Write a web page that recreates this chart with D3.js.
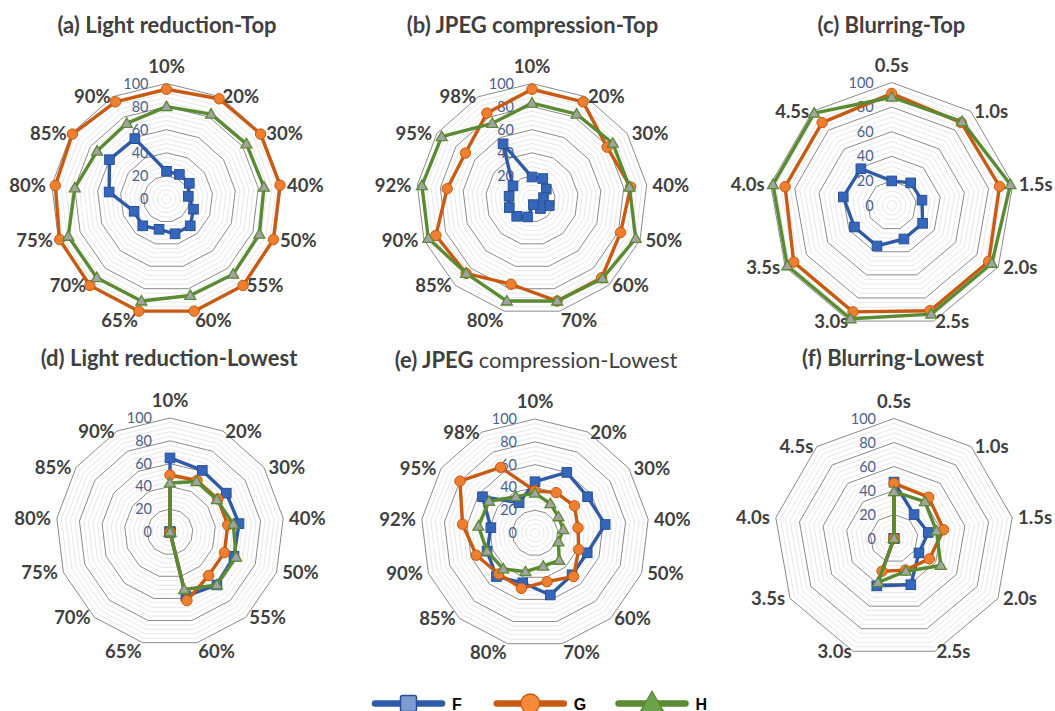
<!DOCTYPE html>
<html>
<head>
<meta charset="utf-8">
<script src="https://cdn.jsdelivr.net/npm/d3@7"></script>
<style>
  html, body { margin: 0; padding: 0; background: #ffffff; }
  svg { display: block; }
</style>
</head>
<body>
<svg id="chart" width="1055" height="711"></svg>
<script>
// ---- categories ----
const lightLevels = ["10%","20%","30%","40%","50%","55%","60%","65%","70%","75%","80%","85%","90%"];
const jpegLevels  = ["10%","20%","30%","40%","50%","60%","70%","80%","85%","90%","92%","95%","98%"];
const blurLevels  = ["0.5s","1.0s","1.5s","2.0s","2.5s","3.0s","3.5s","4.0s","4.5s"];

// ---- series ----
const seriesNames = ["F", "G", "H"];

const lightTopF = [24, 24, 24, 19, 25, 31, 31, 27, 31, 30, 50, 60, 59];
const lightTopG = [95, 98, 99, 99, 99, 100, 100, 100, 100, 99, 97, 99, 95];
const lightTopH = [80, 83, 84, 85, 86, 87, 86, 91, 91, 91, 80, 73, 74];

const jpegTopF = [19, 20, 15, 10, 16, 11, 5, 16, 20, 21, 20, 20, 54];
const jpegTopG = [95, 95, 79, 86, 82, 91, 91, 76, 86, 89, 74, 70, 84];
const jpegTopH = [83, 83, 85, 85, 96, 92, 91, 91, 86, 96, 96, 95, 74];

const blurTopF = [20, 24, 25, 29, 29, 35, 35, 40, 39];
const blurTopG = [91, 88, 89, 91, 91, 92, 92, 88, 88];
const blurTopH = [88, 89, 98, 94, 94, 98, 98, 98, 98];

const lightLowF = [65, 61, 60, 61, 60, 62, 58, 0, 0, 0, 0, 0, 0];
const lightLowG = [50, 51, 51, 51, 51, 51, 62, 0, 0, 0, 0, 0, 0];
const lightLowH = [43, 50, 50, 56, 62, 62, 52, 0, 0, 0, 0, 0, 0];

const jpegLowF = [45, 60, 56, 62, 49, 49, 56, 45, 51, 45, 39, 56, 30];
const jpegLowG = [37, 40, 42, 38, 41, 51, 44, 50, 48, 55, 64, 80, 65];
const jpegLowH = [35, 29, 25, 25, 22, 32, 30, 35, 42, 45, 50, 49, 36];

const blurLowF = [47, 26, 29, 24, 41, 42, 0, 0, 0];
const blurLowG = [46, 45, 42, 34, 28, 29, 0, 0, 0];
const blurLowH = [39, 40, 36, 45, 29, 39, 0, 0, 0];

// ---- radial axis ticks ----
const majorTicks = [0, 20, 40, 60, 80, 100];
const minorStep = 4;

// ---- panels: text, data and where each sits ----
const panels = [
  { title: [["(a) Light reduction-Top", 700]], cats: lightLevels, values: [lightTopF, lightTopG, lightTopH],
    cx: 166.5, cy: 199, r: 115.5, tx: 167, ty: 33 },
  { title: [["(b) JPEG compression-Top", 700]], cats: jpegLevels, values: [jpegTopF, jpegTopG, jpegTopH],
    cx: 532, cy: 199, r: 115.5, tx: 532.5, ty: 33 },
  { title: [["(c) Blurring-Top", 700]], cats: blurLevels, values: [blurTopF, blurTopG, blurTopH],
    cx: 891.7, cy: 205.5, r: 123, tx: 891.5, ty: 33 },
  { title: [["(d) Light reduction-Lowest", 700]], cats: lightLevels, values: [lightLowF, lightLowG, lightLowH],
    cx: 170, cy: 532, r: 114, tx: 169, ty: 366 },
  { title: [["(e) JPEG ", 700], ["compression-Lowest", 400]], cats: jpegLevels, values: [jpegLowF, jpegLowG, jpegLowH],
    cx: 535, cy: 533, r: 114, tx: 536, ty: 368 },
  { title: [["(f) Blurring-Lowest", 700]], cats: blurLevels, values: [blurLowF, blurLowG, blurLowH],
    cx: 894, cy: 538.5, r: 120, tx: 893, ty: 366 }
];

// ---- styles per series ----
const styles = {
  F: { line: "#2F5AA8", fill: "#3467BC", stroke: "#2A4F94", shape: "square" },
  G: { line: "#C95A12", fill: "#F07E2F", stroke: "#C55A11", shape: "circle" },
  H: { line: "#5A8A32", fill: "#A3A3A3", stroke: "#5A8A32", shape: "triangle" }
};

const textColor = "#404040";
const tickColor = "#4C6189";
const labelFont = "Lato, 'Open Sans', 'DejaVu Sans', sans-serif";

const svg = d3.select("#chart");

function drawPanel(p) {
  const n = p.cats.length;
  const g = svg.append("g").attr("transform", `translate(${p.cx},${p.cy})`);
  const rScale = d3.scaleLinear().domain([0, 100]).range([0, p.r]);
  const angle = d3.scaleLinear().domain([0, n]).range([0, 2 * Math.PI]);
  const idx = d3.range(n);

  const ring = v => d3.lineRadial()
      .angle(i => angle(i))
      .radius(() => rScale(v))
      .curve(d3.curveLinearClosed)(idx);

  // minor rings
  const minor = d3.range(minorStep, 100, minorStep).filter(v => v % 20 !== 0);
  g.selectAll("path.minor").data(minor).join("path")
    .attr("class", "minor")
    .attr("d", v => ring(v))
    .attr("fill", "none")
    .attr("stroke", "#E4E4E4")
    .attr("stroke-width", 0.9);

  // major rings
  g.selectAll("path.major").data(majorTicks.filter(v => v > 0)).join("path")
    .attr("class", "major")
    .attr("d", v => ring(v))
    .attr("fill", "none")
    .attr("stroke", "#8A8A8A")
    .attr("stroke-width", 1);

  // radial tick labels
  g.selectAll("text.tick").data(majorTicks).join("text")
    .attr("class", "tick")
    .attr("x", -18)
    .attr("y", v => -rScale(v) + 5)
    .attr("text-anchor", "end")
    .attr("font-family", labelFont)
    .attr("font-size", 14.5)
    .attr("fill", tickColor)
    .text(v => v);

  // category labels
  const capH = 13.5;
  idx.forEach(i => {
    const a = angle(i), s = Math.sin(a), c = Math.cos(a);
    const vx = rScale(100) * s, vy = -rScale(100) * c;
    let x = vx, y, anchor;
    const gap = Math.max(1, 7 * Math.abs(s) - 1);
    if (Math.abs(s) < 0.05) anchor = "middle";
    else if (s > 0) { anchor = "start"; x = vx + gap; }
    else { anchor = "end"; x = vx - gap; }
    if (c > 0.95) y = vy - 11;
    else if (c < -0.95) y = vy + 2 + capH;
    else y = vy + capH / 2;
    g.append("text")
      .attr("x", x).attr("y", y)
      .attr("text-anchor", anchor)
      .attr("font-family", labelFont)
      .attr("font-weight", 700)
      .attr("font-size", 18.5)
      .attr("fill", textColor)
      .text(p.cats[i]);
  });

  // series
  seriesNames.forEach((name, k) => {
    const vals = p.values[k];
    const st = styles[name];
    const line = d3.lineRadial()
      .angle((d, i) => angle(i))
      .radius(d => rScale(d))
      .curve(d3.curveLinearClosed);
    g.append("path")
      .attr("d", line(vals))
      .attr("fill", "none")
      .attr("stroke", st.line)
      .attr("stroke-width", 3.4)
      .attr("stroke-linejoin", "round");

    const pts = vals.map((v, i) => [rScale(v) * Math.sin(angle(i)), -rScale(v) * Math.cos(angle(i))]);
    const mg = g.append("g");
    if (st.shape === "square") {
      mg.selectAll("rect").data(pts).join("rect")
        .attr("x", d => d[0] - 4.8).attr("y", d => d[1] - 4.8)
        .attr("width", 9.6).attr("height", 9.6)
        .attr("fill", st.fill).attr("stroke", st.stroke).attr("stroke-width", 1);
    } else if (st.shape === "circle") {
      mg.selectAll("circle").data(pts).join("circle")
        .attr("cx", d => d[0]).attr("cy", d => d[1]).attr("r", 5.2)
        .attr("fill", st.fill).attr("stroke", st.stroke).attr("stroke-width", 1);
    } else {
      const tri = d3.symbol().type(d3.symbolTriangle).size(52)();
      mg.selectAll("path").data(pts).join("path")
        .attr("d", tri)
        .attr("transform", d => `translate(${d[0]},${d[1] + 0.8})`)
        .attr("fill", st.fill).attr("stroke", st.stroke).attr("stroke-width", 1.3);
    }
  });

  // title
  const t = svg.append("text")
    .attr("x", p.tx).attr("y", p.ty)
    .attr("text-anchor", "middle")
    .attr("font-family", labelFont)
    .attr("font-size", 22)
    .attr("fill", textColor);
  p.title.forEach(([str, w]) => t.append("tspan").attr("font-weight", w).text(str));
}

panels.forEach(drawPanel);

// ---- legend ----
const legendX = d3.scalePoint().domain(seriesNames).range([375, 618.5]);
const legendY = 703.5;
seriesNames.forEach(name => {
  const st = styles[name];
  const x0 = legendX(name);
  const lg = svg.append("g");
  lg.append("line")
    .attr("x1", x0).attr("x2", x0 + 67)
    .attr("y1", legendY).attr("y2", legendY)
    .attr("stroke", st.line).attr("stroke-width", 6.5)
    .attr("stroke-linecap", "round");
  const mx = x0 + 33.5;
  if (st.shape === "square") {
    lg.append("rect").attr("x", mx - 8).attr("y", legendY - 8).attr("width", 16).attr("height", 16)
      .attr("rx", 2).attr("fill", "#7C9BD0").attr("stroke", "#2A4F94").attr("stroke-width", 1.5);
  } else if (st.shape === "circle") {
    lg.append("circle").attr("cx", mx).attr("cy", legendY).attr("r", 9.5)
      .attr("fill", "#F58B3A").attr("stroke", "#C55A11").attr("stroke-width", 1.3);
  } else {
    lg.append("path").attr("d", d3.symbol().type(d3.symbolTriangle).size(260)())
      .attr("transform", `translate(${mx},${legendY + 2})`)
      .attr("fill", "#6BA34A").attr("stroke", "#5A8A32").attr("stroke-width", 1.3);
  }
  lg.append("text")
    .attr("x", x0 + 77).attr("y", 709.5)
    .attr("font-family", "'Liberation Sans', Arial, sans-serif")
    .attr("font-weight", 700)
    .attr("font-size", 16)
    .attr("fill", "#000000")
    .text(name);
});
</script>
</body>
</html>
